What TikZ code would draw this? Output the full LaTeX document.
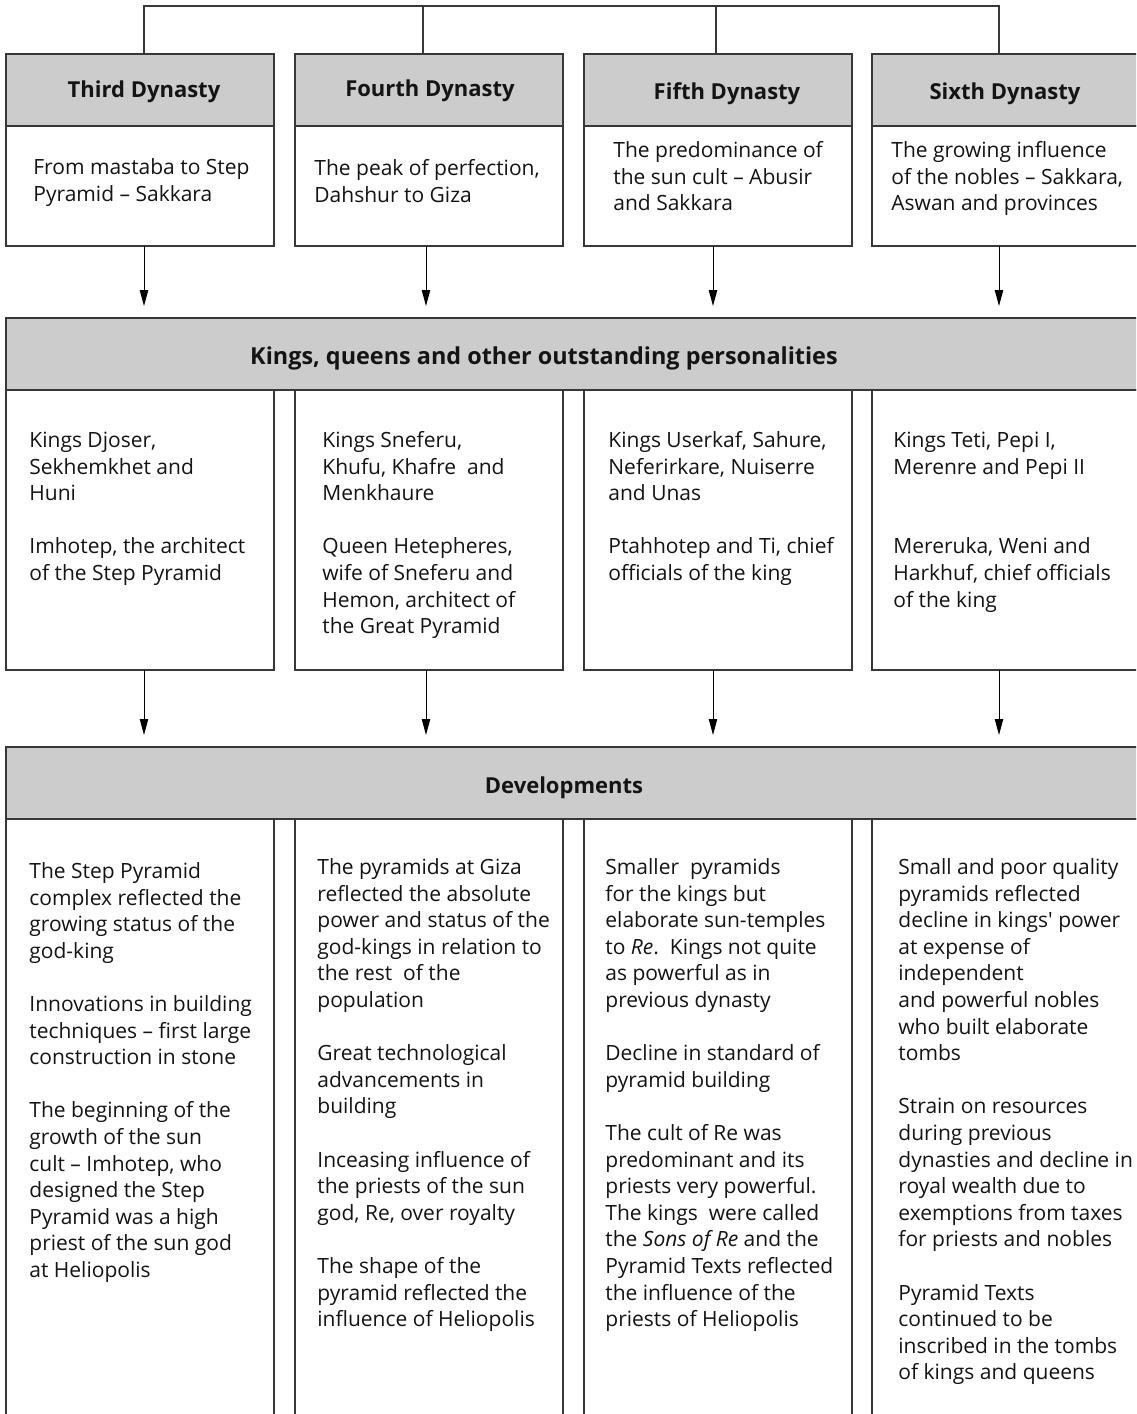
\documentclass[tikz,border=0pt]{standalone}
\usepackage{fontspec}
\setmainfont{Open Sans}
\usetikzlibrary{arrows.meta}
\definecolor{hdr}{gray}{0.8}
\definecolor{ln}{gray}{0.22}
\definecolor{txt}{gray}{0.08}
\newcommand{\fl}{\rule{0pt}{10pt}}
\newcommand{\pskip}{\\[13.3pt]}
\begin{document}
\begin{tikzpicture}[x=0.5pt,y=-0.5pt,
  frame/.style={draw=ln, line width=0.75pt, fill=white, inner sep=0pt, outer sep=0pt, anchor=north west, minimum width=134pt},
  head/.style={frame, fill=hdr},
  htext/.style={font=\fontsize{11}{13}\selectfont\bfseries, text=txt, inner sep=0pt, anchor=base},
  btext/.style={font=\fontsize{10.5}{13.3}\selectfont, text=txt, inner sep=0pt, anchor=north west, align=left},
  link/.style={draw=ln, line width=0.6pt},
  arr/.style={draw=black, line width=0.5pt, -{Triangle[length=8pt,width=4.2pt]}, shorten >=6pt}]
\useasboundingbox (0,0) rectangle (1136,1414);
\clip (0,0) rectangle (1136,1414);
\fill[white] (0,0) rectangle (1136,1414);

% ---- row 1: dynasties
\node[head, minimum height=36pt] (h1) at (6,54) {};
\node[frame, minimum height=60pt] (t1) at (6,126) {};
\node[head, minimum height=36pt] (h2) at (295,54) {};
\node[frame, minimum height=60pt] (t2) at (295,126) {};
\node[head, minimum height=36pt] (h3) at (584,54) {};
\node[frame, minimum height=60pt] (t3) at (584,126) {};
\node[head, minimum height=36pt] (h4) at (872,54) {};
\node[frame, minimum height=60pt] (t4) at (872,126) {};

\node[htext] (ht1) at (144,97) {Third Dynasty};
\node[htext] (ht2) at (430,96) {Fourth Dynasty};
\node[htext] (ht3) at (727,99) {Fifth Dynasty};
\node[htext] (ht4) at (1005,99) {Sixth Dynasty};

\node[btext] (tt1) at (33,154) {\fl From mastaba to Step\\Pyramid – Sakkara};
\node[btext] (tt2) at (314,155) {\fl The peak of perfection,\\Dahshur to Giza};
\node[btext] (tt3) at (613,137) {\fl The predominance of\\the sun cult – Abusir\\and Sakkara};
\node[btext] (tt4) at (891,137) {\fl The growing influence\\of the nobles – Sakkara,\\Aswan and provinces};

% ---- top connector
\coordinate (c1) at (144,6);
\coordinate (c2) at (423,6);
\coordinate (c3) at (716,6);
\coordinate (c4) at (999,6);
\draw[link] (h1.north -| c1) -- (c1) -- (c4) -- (h4.north -| c4);
\draw[link] (c2) -- (h2.north -| c2);
\draw[link] (c3) -- (h3.north -| c3);

% ---- band 1
\node[head, minimum width=572pt, minimum height=36pt] (k) at (6,318) {};
\node[htext, font=\fontsize{11.7}{13}\selectfont\bfseries] (kt) at (544,364) {Kings, queens and other outstanding personalities};

% ---- row 2: personalities
\node[frame, minimum height=140pt] (p1) at (6,390) {};
\node[frame, minimum height=140pt] (p2) at (295,390) {};
\node[frame, minimum height=140pt] (p3) at (584,390) {};
\node[frame, minimum height=140pt] (p4) at (872,390) {};

\node[btext] (pt1) at (29,427) {\fl Kings Djoser,\\Sekhemkhet and\\Huni\pskip Imhotep, the architect\\of the Step Pyramid};
\node[btext] (pt2) at (322,427) {\fl Kings Sneferu,\\Khufu, Khafre\ \ and\\Menkhaure\pskip Queen Hetepheres,\\wife of Sneferu and\\Hemon, architect of\\the Great Pyramid};
\node[btext] (pt3) at (608,427) {\fl Kings Userkaf, Sahure,\\Neferirkare, Nuiserre\\and Unas\pskip Ptahhotep and Ti, chief\\officials of the king};
\node[btext] (pt4) at (893,427) {\fl Kings Teti, Pepi I,\\Merenre and Pepi II\\[26.6pt]Mereruka, Weni and\\Harkhuf, chief officials\\of the king};

% ---- band 2
\node[head, minimum width=572pt, minimum height=36pt] (d) at (6,747) {};
\node[htext] (dt) at (564,793) {Developments};

% ---- row 3: developments
\node[frame, minimum height=310pt] (g1) at (6,819) {};
\node[frame, minimum height=310pt] (g2) at (295,819) {};
\node[frame, minimum height=310pt] (g3) at (584,819) {};
\node[frame, minimum height=310pt] (g4) at (872,819) {};

\node[btext] (gt1) at (29,858) {\fl The Step Pyramid\\complex reflected the\\growing status of the\\god-king\pskip Innovations in building\\techniques – first large\\construction in stone\pskip The beginning of the\\growth of the sun\\cult – Imhotep, who\\designed the Step\\Pyramid was a high\\priest of the sun god\\at Heliopolis};
\node[btext] (gt2) at (317,854) {\fl The pyramids at Giza\\reflected the absolute\\power and status of the\\god-kings in relation to\\the rest\ \ of the\\population\pskip Great technological\\advancements in\\building\pskip Inceasing influence of\\the priests of the sun\\god, Re, over royalty\pskip The shape of the\\pyramid reflected the\\influence of Heliopolis};
\node[btext] (gt3) at (605,854) {\fl Smaller\ \ pyramids\\for the kings but\\elaborate sun-temples\\to \textit{Re}.\ \ Kings not quite\\as powerful as in\\previous dynasty\pskip Decline in standard of\\pyramid building\pskip The cult of Re was\\predominant and its\\priests very powerful.\\The kings\ \ were called\\the \textit{Sons of Re} and the\\Pyramid Texts reflected\\the influence of the\\priests of Heliopolis};
\node[btext] (gt4) at (898,854) {\fl Small and poor quality\\pyramids reflected\\decline in kings\textquotesingle{} power\\at expense of\\independent\\and powerful nobles\\who built elaborate\\tombs\pskip Strain on resources\\during previous\\dynasties and decline in\\royal wealth due to\\exemptions from taxes\\for priests and nobles\pskip Pyramid Texts\\continued to be\\inscribed in the tombs\\of kings and queens};

% ---- arrows
\coordinate (ax1) at (144,0);
\coordinate (ax2) at (426,0);
\coordinate (ax3) at (713,0);
\coordinate (ax4) at (999,0);
\draw[arr] (t1.south -| ax1) -- (k.north -| ax1);
\draw[arr] (t2.south -| ax2) -- (k.north -| ax2);
\draw[arr] (t3.south -| ax3) -- (k.north -| ax3);
\draw[arr] (t4.south -| ax4) -- (k.north -| ax4);
\draw[arr] (p1.south -| ax1) -- (d.north -| ax1);
\draw[arr] (p2.south -| ax2) -- (d.north -| ax2);
\draw[arr] (p3.south -| ax3) -- (d.north -| ax3);
\draw[arr] (p4.south -| ax4) -- (d.north -| ax4);
\end{tikzpicture}
\end{document}
